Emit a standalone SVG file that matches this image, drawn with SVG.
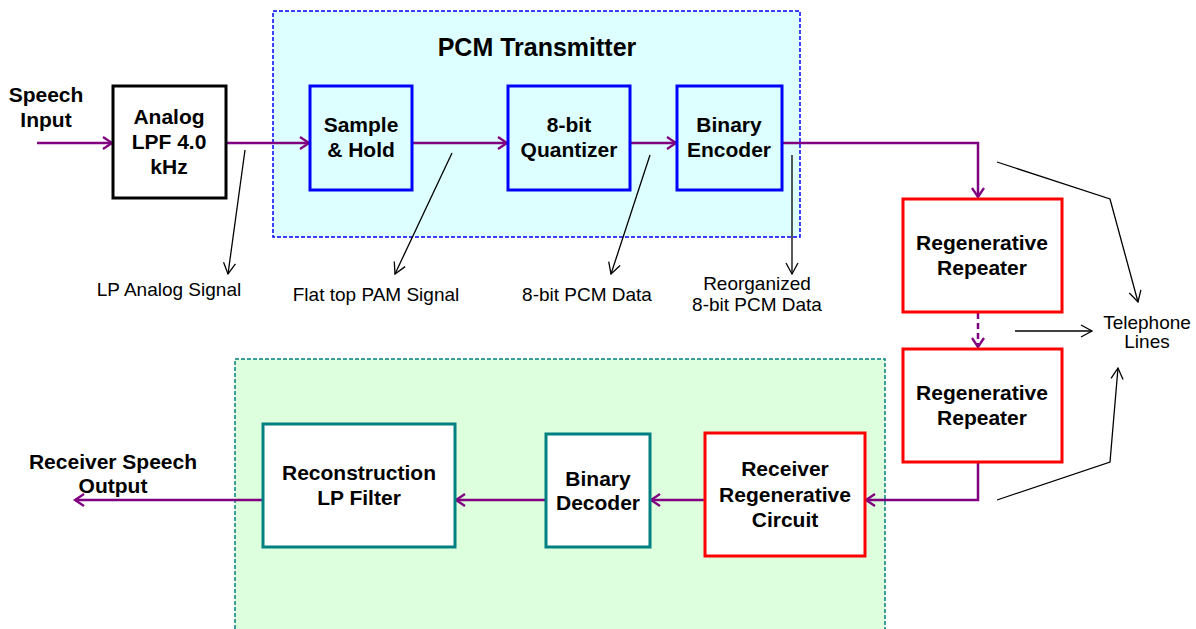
<svg xmlns="http://www.w3.org/2000/svg" width="1196" height="629" viewBox="0 0 1196 629">
<style>
.bold{font-family:"Liberation Sans",Arial,sans-serif;font-weight:bold;font-size:21px;fill:#000;text-anchor:middle}
.title{font-family:"Liberation Sans",Arial,sans-serif;font-weight:bold;font-size:25px;fill:#000;text-anchor:middle}
.lab{font-family:"Liberation Sans",Arial,sans-serif;font-size:19px;fill:#000;text-anchor:middle}
.flow{fill:none;stroke:#800080;stroke-width:2.5}
.ann{fill:none;stroke:#000;stroke-width:1.3}
.blue{fill:#DDFFFF;stroke:#0000FF;stroke-width:3}
.red{fill:#FFFFFF;stroke:#FF0000;stroke-width:3}
.teal{fill:#FFFFFF;stroke:#008080;stroke-width:3}
</style>
<defs>
<marker id="pa" markerUnits="userSpaceOnUse" markerWidth="14" markerHeight="16" refX="11" refY="7" orient="auto" viewBox="0 0 14 14">
<path d="M2,1 L11,7 L2,13" fill="none" stroke="#800080" stroke-width="2.3"/>
</marker>
<marker id="ka" markerUnits="userSpaceOnUse" markerWidth="14" markerHeight="16" refX="12" refY="7" orient="auto" viewBox="0 0 14 14">
<path d="M1,1 L12,7 L1,13" fill="none" stroke="#000" stroke-width="1.3"/>
</marker>
</defs>
<rect width="1196" height="629" fill="#FFFFFF"/>

<g id="transmitter-group">
<rect x="273" y="11" width="527" height="226" fill="#DDFFFF" stroke="#0000FF" stroke-width="1.5" stroke-dasharray="4,2"/>
<text class="title" x="537" y="56">PCM Transmitter</text>
</g>
<g id="receiver-group">
<rect x="235" y="359" width="650" height="280" fill="#DDFFDD" stroke="#008080" stroke-width="1.5" stroke-dasharray="4,2"/>
</g>

<g id="connectors">
<path class="flow" d="M37,143 L112,143" marker-end="url(#pa)"/>
<path class="flow" d="M226,143 L309,143" marker-end="url(#pa)"/>
<path class="flow" d="M412,143 L507,143" marker-end="url(#pa)"/>
<path class="flow" d="M630,143 L676,143" marker-end="url(#pa)"/>
<path class="flow" d="M782,143 L978,143 L978,197" marker-end="url(#pa)"/>
<path class="flow" d="M978,313 L978,347" stroke-dasharray="6,4" marker-end="url(#pa)"/>
<path class="flow" d="M978,463 L978,500 L866,500" marker-end="url(#pa)"/>
<path class="flow" d="M705,500 L651,500" marker-end="url(#pa)"/>
<path class="flow" d="M546,500 L456,500" marker-end="url(#pa)"/>
<path class="flow" d="M263,500 L75,500" marker-end="url(#pa)"/>
<path class="ann" d="M245,150 L228,274" marker-end="url(#ka)"/>
<path class="ann" d="M452,153 L395,274" marker-end="url(#ka)"/>
<path class="ann" d="M650,155 L611,274" marker-end="url(#ka)"/>
<path class="ann" d="M792,155 L792,274" marker-end="url(#ka)"/>
<path class="ann" d="M997,162 L1110,199 L1138,302" marker-end="url(#ka)"/>
<path class="ann" d="M1015,331 L1092,331" marker-end="url(#ka)"/>
<path class="ann" d="M997,500 L1110,462 L1118,368" marker-end="url(#ka)"/>
</g>

<g id="speech-input">
<text class="bold" x="46" y="102">Speech</text>
<text class="bold" x="46" y="127">Input</text>
</g>
<g id="analog-lpf">
<rect x="113" y="86" width="113" height="112" fill="#FFFFFF" stroke="#000" stroke-width="3"/>
<text class="bold" x="169" y="124">Analog</text>
<text class="bold" x="169" y="149">LPF 4.0</text>
<text class="bold" x="169" y="174">kHz</text>
</g>
<g id="sample-hold">
<rect class="blue" x="310" y="86" width="102" height="104"/>
<text class="bold" x="361" y="132">Sample</text>
<text class="bold" x="361" y="157">&amp; Hold</text>
</g>
<g id="quantizer">
<rect class="blue" x="508" y="86" width="122" height="104"/>
<text class="bold" x="569" y="132">8-bit</text>
<text class="bold" x="569" y="157">Quantizer</text>
</g>
<g id="binary-encoder">
<rect class="blue" x="677" y="86" width="105" height="104"/>
<text class="bold" x="729" y="132">Binary</text>
<text class="bold" x="729" y="157">Encoder</text>
</g>
<g id="repeater-1">
<rect class="red" x="903" y="199" width="159" height="113"/>
<text class="bold" x="982" y="250">Regenerative</text>
<text class="bold" x="982" y="275">Repeater</text>
</g>
<g id="repeater-2">
<rect class="red" x="903" y="349" width="159" height="113"/>
<text class="bold" x="982" y="400">Regenerative</text>
<text class="bold" x="982" y="425">Repeater</text>
</g>
<g id="receiver-regen">
<rect class="red" x="705" y="433" width="160" height="123"/>
<text class="bold" x="785" y="476">Receiver</text>
<text class="bold" x="785" y="502">Regenerative</text>
<text class="bold" x="785" y="527">Circuit</text>
</g>
<g id="binary-decoder">
<rect class="teal" x="546" y="434" width="104" height="113"/>
<text class="bold" x="598" y="486">Binary</text>
<text class="bold" x="598" y="510">Decoder</text>
</g>
<g id="reconstruction">
<rect class="teal" x="263" y="424" width="192" height="123"/>
<text class="bold" x="359" y="480">Reconstruction</text>
<text class="bold" x="359" y="505">LP Filter</text>
</g>
<g id="speech-output">
<text class="bold" x="113" y="469">Receiver Speech</text>
<text class="bold" x="113" y="493">Output</text>
</g>
<g id="labels">
<text class="lab" x="169" y="296">LP Analog Signal</text>
<text class="lab" x="376" y="301">Flat top PAM Signal</text>
<text class="lab" x="587" y="301">8-bit PCM Data</text>
<text class="lab" x="757" y="290">Reorganized</text>
<text class="lab" x="757" y="311">8-bit PCM Data</text>
<text class="lab" x="1147" y="329">Telephone</text>
<text class="lab" x="1147" y="348">Lines</text>
</g>
</svg>
